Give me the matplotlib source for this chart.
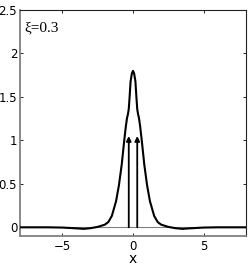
import matplotlib
matplotlib.use("Agg")
import matplotlib.pyplot as plt

# profil density
x_vals = [-8, -6, -5, -4, -3.5, -3, -2.5, -2, -1.75, -1.5, -1.2, -1.0, -0.8, -0.62,
          -0.5, -0.42, -0.36, -0.3, -0.24, -0.17, -0.08, 0,
          0.08, 0.17, 0.24, 0.3, 0.36, 0.42, 0.5, 0.62, 0.8, 1.0, 1.2, 1.5, 1.75, 2, 2.5, 3,
          3.5, 4, 5, 6, 8]
y_vals = [0, 0, -0.003, -0.012, -0.018, -0.01, 0.005, 0.03, 0.06, 0.13, 0.3, 0.48, 0.72, 1.0,
          1.17, 1.26, 1.3, 1.36, 1.5, 1.68, 1.77, 1.8,
          1.77, 1.68, 1.5, 1.36, 1.3, 1.26, 1.17, 1.0, 0.72, 0.48, 0.3, 0.13, 0.06, 0.03, 0.005, -0.01,
          -0.018, -0.012, -0.003, 0, 0]

# delta peaks (arrows)
arrow_x = [-0.3, 0.3]
arrow_h = [1.05, 1.05]

xticks = [-5, 0, 5]
xtick_labels = ["\u22125", "0", "5"]
yticks = [0, 0.5, 1, 1.5, 2, 2.5]
ytick_labels = ["0", "0.5", "1", "1.5", "2", "2.5"]

fig = plt.figure(figsize=(2.49, 2.67), dpi=100)
ax = fig.add_axes([20 / 249, 31 / 267, 226 / 249, 226 / 267])

ax.axhline(0, color="#808080", lw=0.8, zorder=1)
ax.plot(x_vals, y_vals, color="black", lw=1.5, zorder=3)

for xa, ha in zip(arrow_x, arrow_h):
    ax.annotate("", xy=(xa, ha), xytext=(xa, 0),
                arrowprops=dict(arrowstyle="-|>", color="black", lw=1.3,
                                mutation_scale=7, shrinkA=0, shrinkB=0),
                zorder=4)

ax.set_xlim(-8, 8)
ax.set_ylim(-0.1, 2.5)
ax.set_xticks(xticks)
ax.set_xticklabels(xtick_labels)
ax.set_yticks(yticks)
ax.set_yticklabels(ytick_labels)
ax.tick_params(direction="in", length=2, width=0.6, labelsize=8.5, pad=2,
               top=True, right=True)
ax.tick_params(axis="x", pad=3)

for side in ["top", "right"]:
    ax.spines[side].set_color("#222222")
    ax.spines[side].set_linewidth(0.8)
for side in ["left", "bottom"]:
    ax.spines[side].set_color("#808080")
    ax.spines[side].set_linewidth(1.3)

ax.set_xlabel("x", fontsize=10, labelpad=-1)
ax.text(0.018, 0.905, "\u03be=0.3", transform=ax.transAxes, fontsize=11,
        family="Liberation Serif", ha="left", va="baseline")

fig.savefig("out.png", dpi=100)
